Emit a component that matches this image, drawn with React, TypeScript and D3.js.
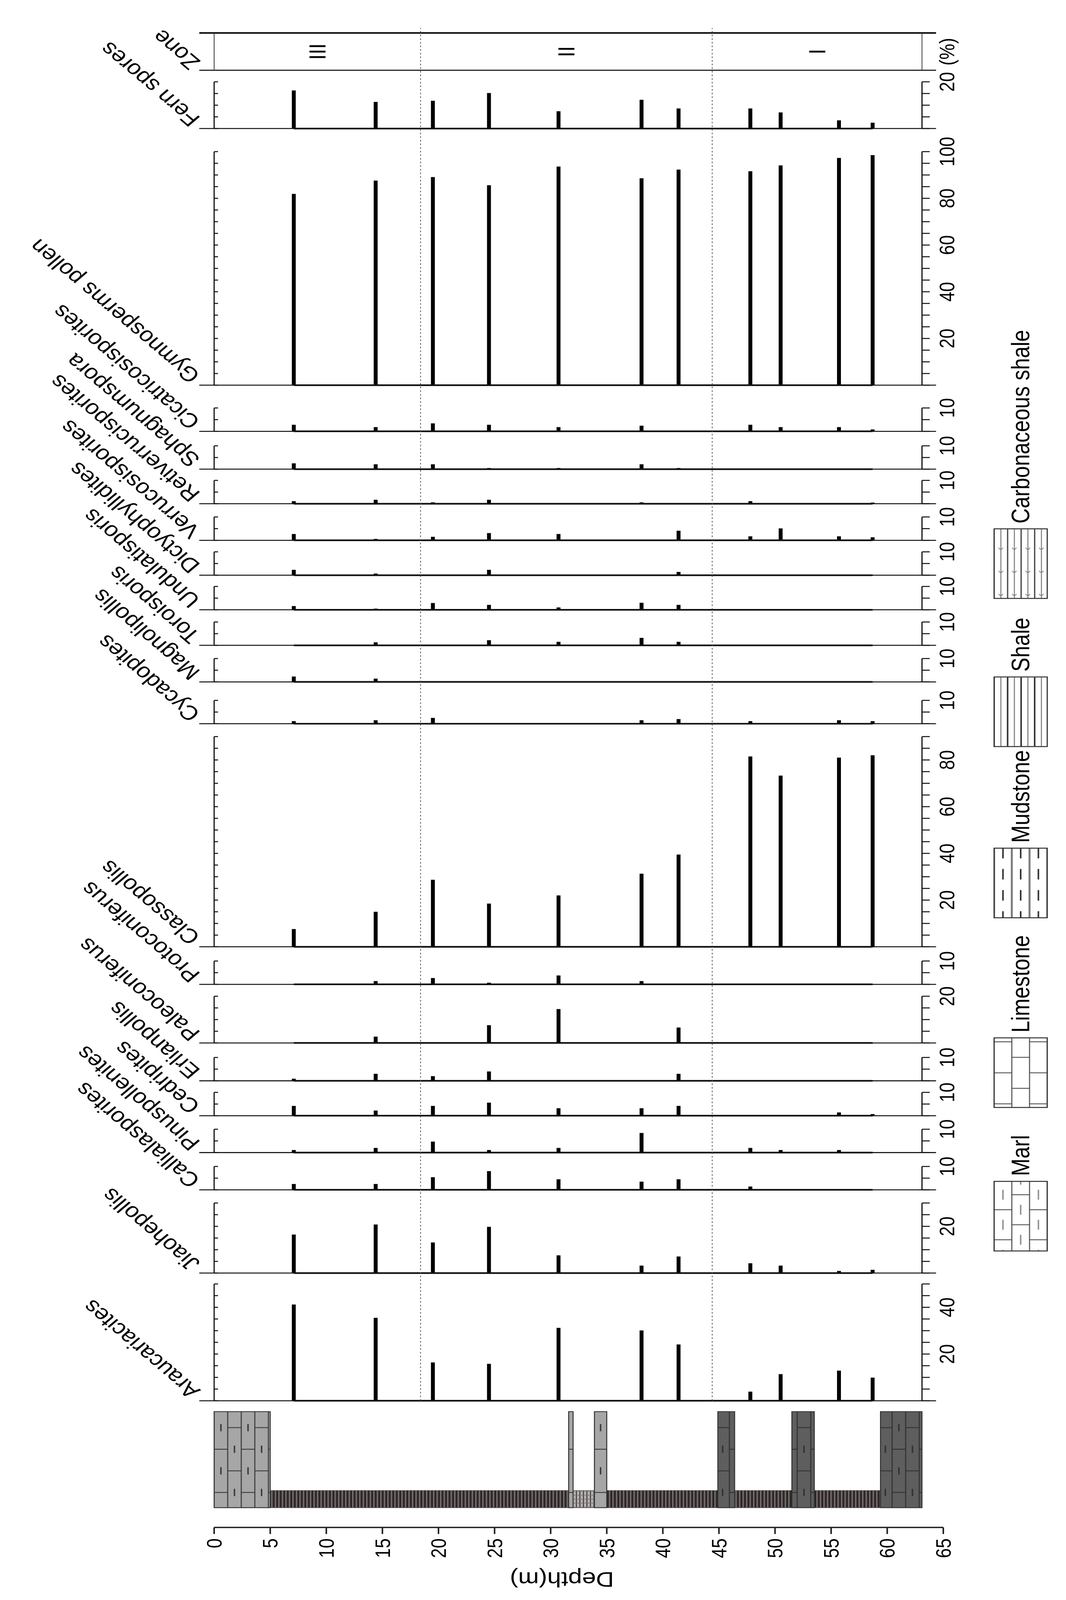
import * as d3 from 'd3';

// ---- data ----
const sampleDepths = [7.1, 14.4, 19.5, 24.5, 30.7, 38.1, 41.4, 47.8, 50.5, 55.7, 58.7];
const depthTicks = [0, 5, 10, 15, 20, 25, 30, 35, 40, 45, 50, 55, 60, 65];
const sectionBase = 63.1;

const taxa = [
  'Araucariacites', 'Jiaohepollis', 'Callialasporites', 'Pinuspollenites', 'Cedripites',
  'Erlianpollis', 'Paleoconiferus', 'Protoconiferus', 'Classopollis', 'Cycadopites',
  'Magnolipollis', 'Toroisporis', 'Undulatisporis', 'Dictyophyllidites', 'Verrucosisporites',
  'Retiverrucisporites', 'Sphagnumspora', 'Cicatricosisporites', 'Gymnosperms pollen', 'Fern spores',
];
const axisMax = [50, 30, 10, 10, 10, 10, 20, 10, 90, 10, 10, 10, 10, 10, 10, 10, 10, 10, 100, 20];

const araucariacites = [41.2, 35.5, 16.4, 15.8, 31.2, 30.1, 24.1, 3.9, 11.4, 12.9, 9.9];
const jiaohepollis = [16.5, 20.8, 13.1, 19.8, 7.6, 3.2, 7.1, 4.2, 3.2, 0.9, 1.4];
const callialasporites = [2.5, 2.5, 5.4, 8.0, 4.5, 3.5, 4.5, 1.4, 0, 0, 0];
const pinuspollenites = [1.1, 2.0, 4.7, 1.1, 2.0, 8.4, 0, 2.0, 1.1, 1.1, 0];
const cedripites = [4.2, 2.2, 4.2, 5.6, 3.2, 3.2, 4.2, 0, 0, 1.4, 0.7];
const erlianpollis = [0.9, 3.0, 2.0, 4.0, 0, 0, 3.0, 0, 0, 0, 0];
const paleoconiferus = [0, 2.7, 0, 7.6, 14.5, 0, 6.6, 0, 0, 0, 0];
const protoconiferus = [0, 1.4, 2.7, 0.7, 3.8, 1.4, 0, 0, 0, 0, 0];
const classopollis = [7.6, 15.0, 28.7, 18.5, 22.0, 31.3, 39.5, 81.5, 73.3, 81.0, 82.0];
const cycadopites = [1.1, 1.5, 2.5, 0, 0, 1.5, 2.0, 1.1, 0, 1.5, 1.1];
const magnolipollis = [2.3, 1.4, 0, 0, 0, 0, 0, 0, 0, 0, 0];
const toroisporis = [0, 1.3, 0, 2.2, 1.5, 3.2, 1.5, 0, 0, 0, 0];
const undulatisporis = [1.6, 0.5, 2.9, 2.1, 1.0, 3.0, 2.1, 0, 0, 0, 0];
const dictyophyllidites = [2.3, 0.7, 0, 2.3, 0, 0, 1.4, 0, 0, 0, 0];
const verrucosisporites = [2.7, 0.6, 1.5, 3.1, 2.7, 0, 4.1, 1.7, 5.1, 1.7, 1.3];
const retiverrucisporites = [1.1, 1.7, 0.6, 1.7, 0, 0.6, 0, 1.1, 0, 0, 0.5];
const sphagnumspora = [2.5, 2.1, 2.1, 0.5, 0.5, 2.1, 0.5, 0, 0, 0, 0];
const cicatricosisporites = [2.8, 1.8, 3.4, 2.8, 1.8, 2.4, 0, 2.8, 1.8, 1.8, 0.8];
const gymnosperms = [81.9, 87.6, 89.1, 85.6, 93.6, 88.6, 92.3, 91.6, 94.1, 97.3, 98.5];
const fernSpores = [16.3, 11.4, 11.9, 15.2, 7.4, 12.3, 8.6, 8.6, 6.9, 3.5, 2.5];

const zoneNames = ['III', 'II', 'I'];
const zoneBounds = [0, 18.4, 44.4, 63.1];

const lithTop = [0, 5.0, 31.6, 32.0, 33.9, 35.0, 44.9, 46.4, 51.5, 53.5, 59.4];
const lithBase = [5.0, 31.6, 32.0, 33.9, 35.0, 44.9, 46.4, 51.5, 53.5, 59.4, 63.1];
const lithType = ['marl', 'shale', 'marl', 'shaleLight', 'marl', 'shale', 'marlDark', 'shale', 'marlDark', 'shale', 'marlDark'];

const legendNames = ['Marl', 'Limestone', 'Mudstone', 'Shale', 'Carbonaceous shale'];

// ---- layout (drawn in the unrotated frame, then turned 90deg) ----
const W = 2728;
const H = 4850;
const SHOT_H = 4096; // the photo stops here, so squeeze the page height into it
const K = SHOT_H / H;
const PCT = 7.08; // px per percent
const firstColU = 604;
const gapBefore = [0, 33, 40, 42, 41, 35, 44, 36, 43, 39, 56, 40, 37, 34, 35, 40, 34, 44, 69, 70];
const zoneGap = 35;
const zoneH = 113;
const lithU = 280;
const lithFull = 291;
const lithNarrow = 52;
const depthAxisU = 220;
const legendU = [1058, 1493, 2068, 2587, 3036];
const legendV = 2544;
const FONT = "'Liberation Sans', Arial, Helvetica, sans-serif";

const seriesList = [
  araucariacites, jiaohepollis, callialasporites, pinuspollenites, cedripites,
  erlianpollis, paleoconiferus, protoconiferus, classopollis, cycadopites,
  magnolipollis, toroisporis, undulatisporis, dictyophyllidites, verrucosisporites,
  retiverrucisporites, sphagnumspora, cicatricosisporites, gymnosperms, fernSpores,
];

function brick(id: string, w: number, h: number, fill: string, line: string, lw: number,
  x: number, y: number, dash: string | null, dl: number) {
  const rh = h / 2;
  return (
    <pattern id={id} patternUnits="userSpaceOnUse" width={w} height={h} x={x} y={y}>
      <rect width={w} height={h} fill={fill} />
      <g stroke={line} strokeWidth={lw}>
        <line x1={0} x2={w} y1={0} y2={0} />
        <line x1={0} x2={w} y1={rh} y2={rh} />
        <line x1={0} x2={w} y1={h} y2={h} />
        <line x1={0} x2={0} y1={0} y2={rh} />
        <line x1={w} x2={w} y1={0} y2={rh} />
        <line x1={w / 2} x2={w / 2} y1={rh} y2={h} />
      </g>
      {dash && (
        <g stroke={dash} strokeWidth={lw + 1}>
          <line x1={w / 2 - dl / 2} x2={w / 2 + dl / 2} y1={rh / 2} y2={rh / 2} />
          <line x1={-dl / 2} x2={dl / 2} y1={rh * 1.5} y2={rh * 1.5} />
          <line x1={w - dl / 2} x2={w + dl / 2} y1={rh * 1.5} y2={rh * 1.5} />
        </g>
      )}
    </pattern>
  );
}

export default function App() {
  const y = d3.scaleLinear().domain([0, 65]).range([548, 2414]);
  const v0 = y(0);
  const vEnd = y(sectionBase);

  let u = firstColU;
  const cols = taxa.map((name, i) => {
    u += gapBefore[i];
    const max = axisMax[i];
    const x = d3.scaleLinear().domain([0, max]).range([u, u + max * PCT]);
    const c = { name, max, x, u0: u, values: seriesList[i] };
    u += max * PCT;
    return c;
  });
  const zoneU0 = u + zoneGap;
  const zoneU1 = zoneU0 + zoneH;
  const zoneMid = (zoneU0 + zoneU1) / 2;

  const lithFill: Record<string, string> = {
    marl: 'url(#marlCol)', marlDark: 'url(#marlColDark)', shale: 'url(#shaleCol)', shaleLight: 'url(#shaleColLight)',
  };
  const legendFill = ['url(#legMarl)', 'url(#legLime)', 'url(#legMud)', 'url(#legShale)', 'url(#legCarb)'];

  return (
    <svg width={W} height={H} viewBox={`0 0 ${W} ${H}`}
      style={{ position: 'absolute', left: 0, top: 0, background: '#fff' }} fontFamily={FONT}>
      <defs>
        {brick('marlCol', 131, 69.4, '#a6a6a6', '#333', 2.5, 326, v0, '#333', 22)}
        {brick('marlColDark', 131, 69.4, '#5e5e5e', '#2e2e2e', 2.5, 326, v0, '#2e2e2e', 22)}
        {brick('legMarl', 91, 90.7, '#fff', '#444', 2.5, 0, legendV, '#8a8a8a', 30)}
        {brick('legLime', 94, 90.7, '#fff', '#444', 2.5, 0, legendV, null, 0)}
        <pattern id="legMud" patternUnits="userSpaceOnUse" width={64} height={45.33} x={0} y={legendV}>
          <rect width={64} height={45.33} fill="#fff" />
          <line x1={0} x2={64} y1={0} y2={0} stroke="#777" strokeWidth={5} />
          <line x1={0} x2={64} y1={45.33} y2={45.33} stroke="#777" strokeWidth={5} />
          <line x1={8} x2={40} y1={22.7} y2={22.7} stroke="#333" strokeWidth={4} />
        </pattern>
        <pattern id="legShale" patternUnits="userSpaceOnUse" width={20} height={34.6} x={0} y={legendV}>
          <rect width={20} height={34.6} fill="#fff" />
          <line x1={0} x2={20} y1={0} y2={0} stroke="#333" strokeWidth={4} />
          <line x1={0} x2={20} y1={34.6} y2={34.6} stroke="#333" strokeWidth={4} />
          <line x1={0} x2={20} y1={17.3} y2={17.3} stroke="#888" strokeWidth={3} />
        </pattern>
        <pattern id="legCarb" patternUnits="userSpaceOnUse" width={70} height={34.6} x={0} y={legendV}>
          <rect width={70} height={34.6} fill="#fff" />
          <line x1={0} x2={70} y1={0} y2={0} stroke="#333" strokeWidth={3} />
          <line x1={0} x2={70} y1={34.6} y2={34.6} stroke="#333" strokeWidth={3} />
          <line x1={0} x2={70} y1={17.3} y2={17.3} stroke="#555" strokeWidth={2} />
          <path d="M40,12 a5,5 0 1,0 0,10" fill="none" stroke="#666" strokeWidth={2} />
        </pattern>
        <pattern id="shaleCol" patternUnits="userSpaceOnUse" width={12} height={9} x={0} y={v0}>
          <rect width={12} height={9} fill="#5b5353" />
          <line x1={0} x2={12} y1={0} y2={0} stroke="#231d1d" strokeWidth={3} />
          <line x1={0} x2={12} y1={9} y2={9} stroke="#231d1d" strokeWidth={3} />
          <line x1={0} x2={12} y1={3.5} y2={3.5} stroke="#8a8282" strokeWidth={1.5} />
          <line x1={0} x2={12} y1={6.5} y2={6.5} stroke="#3a3333" strokeWidth={1.5} />
        </pattern>
        <pattern id="shaleColLight" patternUnits="userSpaceOnUse" width={12} height={9} x={0} y={v0}>
          <rect width={12} height={9} fill="#b9b3b3" />
          <line x1={0} x2={12} y1={0} y2={0} stroke="#3a3333" strokeWidth={2.5} />
          <line x1={0} x2={12} y1={9} y2={9} stroke="#3a3333" strokeWidth={2.5} />
          <line x1={3} x2={8} y1={4.5} y2={4.5} stroke="#555" strokeWidth={1.5} />
        </pattern>
      </defs>
      <rect width={W} height={H} fill="#fff" />

      <g transform={`scale(1,${K})`}>
        <g transform={`translate(0,${H}) rotate(-90)`}>
          {/* depth axis */}
          <g>
            <line x1={depthAxisU} x2={depthAxisU} y1={y(0)} y2={y(65)} stroke="#222" strokeWidth={4} />
            {depthTicks.map(d => (
              <g key={d}>
                <line x1={depthAxisU} x2={depthAxisU - 20} y1={y(d)} y2={y(d)} stroke="#222" strokeWidth={4} />
                <text x={depthAxisU - 33} y={y(d)} dy="0.35em" textAnchor="end" fontSize={54}>{d}</text>
              </g>
            ))}
            <text transform={`translate(84,${y(31)}) rotate(-90)`} textAnchor="middle" fontSize={64}>Depth(m)</text>
          </g>

          {/* lithology */}
          <line x1={lithU} x2={lithU} y1={v0} y2={vEnd} stroke="#888" strokeWidth={3} />
          {lithTop.map((t, i) => lithType[i].startsWith('shale') ? (
            <rect key={'s' + i} x={lithU} y={y(t)} width={lithNarrow} height={y(lithBase[i]) - y(t)}
              fill={lithFill[lithType[i]]} stroke="#444" strokeWidth={1} />
          ) : null)}
          {lithTop.map((t, i) => !lithType[i].startsWith('shale') ? (
            <rect key={'m' + i} x={lithU} y={y(t)} width={lithFull} height={y(lithBase[i]) - y(t)}
              fill={lithFill[lithType[i]]} stroke="#333" strokeWidth={2.5} />
          ) : null)}

          {/* taxa columns */}
          {cols.map(c => {
            const w = c.max * PCT;
            const ticks = d3.range(0, c.max + 0.01, 5);
            const labels = c.max <= 10 ? [10] : d3.range(20, c.max + 0.01, 20);
            return (
              <g key={c.name}>
                {c.values.map((val, j) => val > 0 ? (
                  <rect key={j} x={c.u0} y={y(sampleDepths[j]) - 5} width={c.x(val) - c.u0} height={10} fill="#000" />
                ) : null)}
                <line x1={c.u0} x2={c.u0} y1={v0 - 38} y2={vEnd + 36} stroke="#111" strokeWidth={3} />
                <line x1={c.u0} x2={c.u0} y1={y(sampleDepths[0])} y2={y(sampleDepths[sampleDepths.length - 1])} stroke="#111" strokeWidth={5} />
                <line x1={c.u0} x2={c.u0 + w} y1={v0} y2={v0} stroke="#111" strokeWidth={3} />
                <line x1={c.u0} x2={c.u0 + w} y1={vEnd} y2={vEnd} stroke="#111" strokeWidth={3} />
                {ticks.map(t => (
                  <g key={t}>
                    <line x1={c.x(t)} x2={c.x(t)} y1={v0} y2={v0 + 10} stroke="#111" strokeWidth={3} />
                    <line x1={c.x(t)} x2={c.x(t)} y1={vEnd} y2={vEnd + 20} stroke="#111" strokeWidth={3} />
                  </g>
                ))}
                {labels.map(t => (
                  <text key={t} x={c.x(t)} y={vEnd + 64} dy="0.35em" textAnchor="middle" fontSize={54}>{t}</text>
                ))}
                <text transform={`translate(${c.u0 + 32},515) rotate(-45)`} fontSize={62}>{c.name}</text>
              </g>
            );
          })}

          {/* zone column */}
          <line x1={zoneU1} x2={zoneU1} y1={v0 - 38} y2={vEnd + 36} stroke="#111" strokeWidth={5} />
          <line x1={zoneU0} x2={zoneU0} y1={v0 - 38} y2={vEnd + 36} stroke="#111" strokeWidth={3} />
          <line x1={zoneU0} x2={zoneU1} y1={v0} y2={v0} stroke="#333" strokeWidth={2} />
          <line x1={zoneU0} x2={zoneU1} y1={vEnd} y2={vEnd} stroke="#333" strokeWidth={2} />
          {zoneNames.map((z, i) => (
            <text key={z} x={zoneMid} y={y((zoneBounds[i] + zoneBounds[i + 1]) / 2)} dy="0.35em"
              textAnchor="middle" fontSize={60}>{z}</text>
          ))}
          <text x={zoneMid} y={vEnd + 64} dy="0.35em" textAnchor="middle" fontSize={54}>(%)</text>
          <text transform={`translate(${zoneU0 + 27},515) rotate(-45)`} fontSize={62}>Zone</text>

          {/* zone boundaries */}
          {zoneBounds.slice(1, -1).map(b => (
            <line key={b} x1={firstColU} x2={zoneU1 + 15} y1={y(b)} y2={y(b)}
              stroke="#555" strokeWidth={2} strokeDasharray="5 6" />
          ))}

          {/* legend */}
          {legendNames.map((n, i) => (
            <g key={n}>
              <rect x={legendU[i]} y={legendV} width={211} height={136} fill={legendFill[i]} stroke="#333" strokeWidth={3} />
              <text x={legendU[i] + 227} y={legendV + 68} dy="0.35em" fontSize={64}>{n}</text>
            </g>
          ))}
        </g>
      </g>
    </svg>
  );
}
